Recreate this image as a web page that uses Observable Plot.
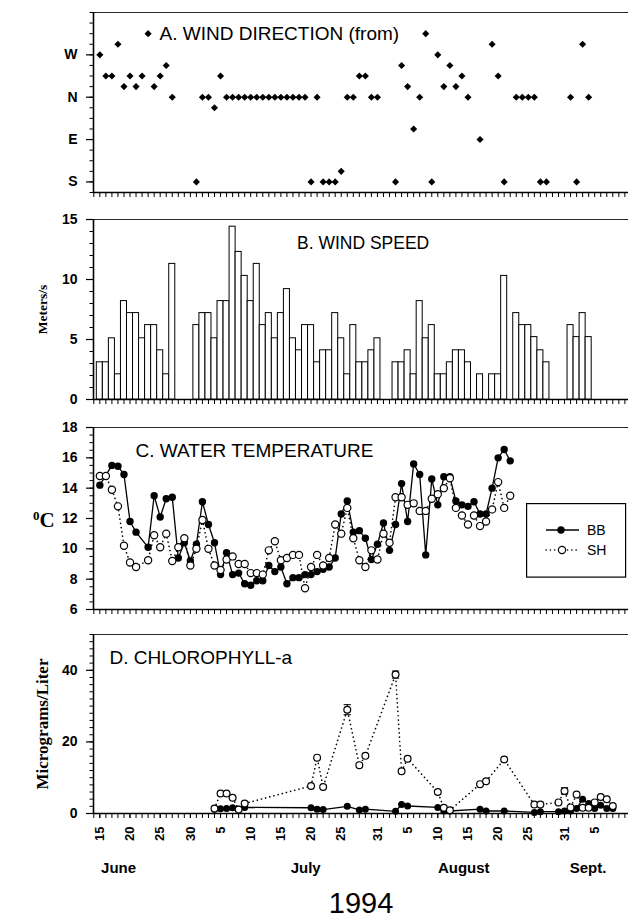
<!DOCTYPE html>
<html><head><meta charset="utf-8">
<script src="https://cdn.jsdelivr.net/npm/d3@7"></script>
<script src="https://cdn.jsdelivr.net/npm/@observablehq/plot@0.6"></script>
<style>
body{margin:0;background:#fff;}
#wrap{position:relative;width:629px;height:921px;overflow:hidden;background:#fff;}
#wrap svg{display:block;}
.ov{position:absolute;color:#000;}
</style></head><body><div id="wrap"></div>
<script>
// ---------------- DATA (day 0 = 15 June 1994) ----------------
const windDirDays = [0,1,2,3,4,5,6,7,8,9,10,11,12,16,17,18,19,20,21,22,23,24,25,26,27,28,29,30,31,32,33,34,35,36,37,38,39,40,41,42,43,44,45,46,49,50,51,52,53,54,55,56,57,58,59,60,61,63,65,66,67,69,70,71,72,73,74,78,79,80,81];
const windDirValues = [3,2.5,2.5,3.25,2.25,2.5,2.25,2.5,3.5,2.25,2.5,2.75,2,0,2,2,1.75,2.5,2,2,2,2,2,2,2,2,2,2,2,2,2,2,0,2,0,0,0,0.25,2,2,2.5,2.5,2,2,0,2.75,2.25,1.25,2,3.5,0,3,2.25,2.75,2.25,2.5,2,1,3.25,2.5,0,2,2,2,2,0,0,2,0,3.25,2];
const dirTickValues = [0,1,2,3];
const dirTickLabels = ["S","E","N","W"];

const windSpeedDays = [0,1,2,3,4,5,6,7,8,9,10,11,12,16,17,18,19,20,21,22,23,24,25,26,27,28,29,30,31,32,33,34,35,36,37,38,39,40,41,42,43,44,45,46,49,50,51,52,53,54,55,56,57,58,59,60,61,63,65,66,67,69,70,71,72,73,74,78,79,80,81];
const windSpeedValues = [3.1,3.1,5.1,2.1,8.2,7.2,7.2,5.1,6.2,6.2,4.1,2.1,11.3,6.2,7.2,7.2,5.1,8.2,8.2,14.4,12.3,10.3,8.2,11.3,6.2,7.2,5.1,7.2,9.2,5.1,4.1,6.2,6.2,3.1,4.1,4.1,7.2,5.1,2.1,6.2,3.1,3.1,4.1,5.1,3.1,3.1,4.1,2.1,8.2,5.1,6.2,2.1,2.1,3.1,4.1,4.1,3.1,2.1,2.1,2.1,10.3,7.2,6.2,6.2,5.2,4.1,3.1,6.2,5.2,7.2,5.2];

const tempDays = [0,1,2,3,4,5,6,8,9,10,11,12,13,14,15,16,17,18,19,20,21,22,23,24,25,26,27,28,29,30,31,32,33,34,35,36,37,38,39,40,41,42,43,44,45,46,47,48,49,50,51,52,53,54,55,56,57,58,59,60,61,62,63,64,65,66,67,68];
const tempBB = [14.2,null,15.5,15.45,14.9,11.8,11.1,10.1,13.5,12.1,13.3,13.4,9.4,10.4,9.2,10.3,13.1,11.6,10.4,8.3,9.75,8.3,8.4,7.7,7.6,7.9,7.9,8.9,8.5,8.8,7.7,8.1,8.1,8.3,8.3,8.5,8.65,8.8,9.4,12.3,13.15,11.1,11.2,10.7,9.3,10.3,11.7,9.9,11.6,14.3,11.8,15.6,14.9,9.6,14.6,12.9,14.75,14.75,13.15,12.9,12.8,13.1,12.3,12.3,14.0,16.0,16.55,15.8];
const tempSH = [14.8,14.8,13.9,12.8,10.2,9.1,8.8,9.25,10.9,10.1,11.0,9.2,10.1,10.7,8.9,10.0,11.9,10.0,8.9,8.6,9.3,9.5,9.0,9.0,8.4,8.4,8.3,9.9,10.5,9.25,9.4,9.6,9.6,7.4,8.8,9.6,8.9,9.4,11.6,11.0,12.7,10.7,9.25,8.8,9.9,9.3,11.0,10.4,13.4,13.4,12.9,13.0,12.5,12.5,13.3,13.6,14.0,14.65,12.7,12.2,11.6,12.2,11.5,11.8,12.6,14.4,12.7,13.5];

const chlDays = [19,20,21,22,23,24,35,36,37,41,43,44,49,50,51,56,57,58,63,64,67,72,73,76,77,78,79,80,81,82,83,84,85];
const chlBB = [1.2,1.3,1.4,1.6,1.2,1.7,1.6,1.2,1.1,2.0,1.0,1.2,0.6,2.5,2.1,1.7,0.7,0.7,1.2,0.7,0.7,0.3,0.5,0.5,0.7,0.7,1.4,4.0,2.8,1.4,2.3,1.4,1.4];
const chlSH = [1.4,5.6,5.6,4.4,1.1,2.8,7.7,15.6,7.4,29.0,13.5,16.1,38.8,11.8,15.3,6.0,1.6,0.9,8.2,9.0,15.1,2.5,2.5,3.1,6.3,1.7,5.3,1.6,1.6,3.1,4.6,4.0,2.1];
const chlErrDays = [41,49,77];
const chlErrLow = [27.6,37.8,5.4];
const chlErrHigh = [30.4,39.8,7.2];

const dayTickDays = [0,5,10,15,20,25,30,35,40,46,51,56,61,66,71,77,82];
const dayTickLabels = ["15","20","25","30","5","10","15","20","25","31","5","10","15","20","25","31","5"];
const monthLabels = ["June","July","August","Sept."];
const monthDays = [3.1,34.1,60.3,80.9];
const yearLabel = "1994";
const seriesNames = ["BB","SH"];
const panelTitles = ["A. WIND DIRECTION (from)","B. WIND SPEED","C. WATER TEMPERATURE","D. CHLOROPHYLL-a"];

// ---------------- HELPERS ----------------
const FONT = "'Liberation Sans', Arial, Helvetica, sans-serif";
const SERIF = "'Liberation Serif', 'Times New Roman', serif";
const xDomain = [-1.05, 87.6];
const allDays = d3.range(-1, 88);
const zip = (xs, ys) => xs.map((x, i) => ({x, y: ys[i]}));
const tickMap = new Map(dayTickDays.map((d, i) => [d, dayTickLabels[i]]));

function frameMarks(yDomain, minor, major, fmt, xLabels) {
  return [
    Plot.ruleY([yDomain[1]], {stroke: "#2a2a2a", strokeWidth: 1.2}),
    Plot.axisY({ticks: minor, tickSize: 3.5, tickFormat: () => "", strokeWidth: 1, label: null}),
    Plot.axisY({ticks: major, tickSize: 7, tickPadding: 9, tickFormat: fmt, fontSize: 14, fontWeight: "bold", strokeWidth: 1.2, label: null}),
    Plot.axisX({ticks: allDays, tickSize: 5, tickFormat: () => "", strokeWidth: 1, label: null}),
    ...(xLabels ? [Plot.axisX({ticks: dayTickDays, tickSize: 5, tickPadding: 8, tickRotate: -90, tickFormat: d => tickMap.get(d), fontSize: 13, fontWeight: "bold", strokeWidth: 1, label: null})] : []),
    Plot.ruleX([xDomain[0]], {strokeWidth: 1.6}),
    Plot.ruleY([yDomain[0]], {strokeWidth: 1.6})
  ];
}
function title(t, dx, dy, size) {
  return Plot.text([t], {text: d => d, frameAnchor: "top-left", dx, dy, textAnchor: "start", lineAnchor: "middle", fontSize: size, fontWeight: "normal"});
}
function yTitle(t, size) {
  return Plot.text([t], {text: d => d, frameAnchor: "left", dx: -51, rotate: -90, textAnchor: "middle", lineAnchor: "middle", fontFamily: SERIF, fontWeight: "bold", fontSize: size});
}
const base = (h, mt, mb, y, marks) => Plot.plot({
  width: 629, height: h, marginLeft: 93, marginRight: 1, marginTop: mt, marginBottom: mb,
  x: {domain: xDomain, label: null},
  y: {...y, label: null},
  style: {fontFamily: FONT, fontSize: "14px", color: "black", background: "white", overflow: "visible"},
  marks
});

const wrap = document.getElementById("wrap");

// ---------------- A. WIND DIRECTION ----------------
const dirData = zip(windDirDays, windDirValues);
wrap.appendChild(base(205, 12, 13, {domain: [-0.25, 4]}, [
  ...frameMarks([-0.25, 4], d3.range(-0.25, 4.01, 0.25), dirTickValues, d => dirTickLabels[dirTickValues.indexOf(d)]),
  Plot.dot(dirData, {x: "x", y: "y", symbol: "diamond2", r: 3.2, fill: "black"}),
  title(panelTitles[0], 66, 21, 19)
]));

// ---------------- B. WIND SPEED ----------------
const spdData = zip(windSpeedDays, windSpeedValues);
wrap.appendChild(base(208, 14, 14, {domain: [0, 15]}, [
  ...frameMarks([0, 15], d3.range(0, 15.01, 1), [0, 5, 10, 15], d => d),
  Plot.rect(spdData, {x1: d => d.x - 0.5, x2: d => d.x + 0.5, y1: 0, y2: "y", fill: "white", stroke: "black", strokeWidth: 1, inset: 0}),
  title(panelTitles[1], 203.5, 24, 17.5),
  yTitle("Meters/s", 13.5)
]));

// ---------------- C. WATER TEMPERATURE ----------------
const bbT = zip(tempDays, tempBB).filter(d => d.y != null);
const shT = zip(tempDays, tempSH).filter(d => d.y != null);
wrap.appendChild(base(208, 14, 12, {domain: [6, 18]}, [
  ...frameMarks([6, 18], d3.range(6, 18.01, 0.5), d3.range(6, 18.01, 2), d => d),
  Plot.line(shT, {x: "x", y: "y", stroke: "black", strokeWidth: 1.6, strokeDasharray: "0.1 4.2", strokeLinecap: "round"}),
  Plot.line(bbT, {x: "x", y: "y", stroke: "black", strokeWidth: 1.3}),
  Plot.dot(bbT, {x: "x", y: "y", r: 3.7, fill: "black"}),
  Plot.dot(shT, {x: "x", y: "y", r: 3.6, fill: "white", stroke: "black", strokeWidth: 1.2}),
  title(panelTitles[2], 42, 23, 19)
]));

// ---------------- D. CHLOROPHYLL-a ----------------
const bbC = zip(chlDays, chlBB);
const shC = zip(chlDays, chlSH);
const errC = chlErrDays.map((d, i) => ({x: d, lo: chlErrLow[i], hi: chlErrHigh[i]}));
wrap.appendChild(base(300, 13, 108, {domain: [0, 50]}, [
  ...frameMarks([0, 50], d3.range(0, 50.01, 2), [0, 20, 40], d => d, true),
  Plot.line(shC, {x: "x", y: "y", stroke: "black", strokeWidth: 1.6, strokeDasharray: "0.1 4.2", strokeLinecap: "round"}),
  Plot.line(bbC, {x: "x", y: "y", stroke: "black", strokeWidth: 1.3}),
  Plot.ruleX(errC, {x: "x", y1: "lo", y2: "hi", strokeWidth: 1}),
  Plot.link(errC, {x1: d => d.x - 0.6, x2: d => d.x + 0.6, y1: "lo", y2: "lo", strokeWidth: 1}),
  Plot.link(errC, {x1: d => d.x - 0.6, x2: d => d.x + 0.6, y1: "hi", y2: "hi", strokeWidth: 1}),
  Plot.dot(bbC, {x: "x", y: "y", r: 3.5, fill: "black"}),
  Plot.dot(shC, {x: "x", y: "y", r: 3.4, fill: "white", stroke: "black", strokeWidth: 1.2}),
  title(panelTitles[3], 16, 23, 19),
  yTitle("Micrograms/Liter", 17),
  Plot.text(monthLabels, {text: d => d, x: monthDays, frameAnchor: "bottom", dy: 55, lineAnchor: "middle", fontSize: 15, fontWeight: "bold"}),
  Plot.text([yearLabel], {text: d => d, frameAnchor: "bottom", dy: 90, lineAnchor: "middle", fontSize: 29, fontWeight: "normal"})
]));

// ---------------- overlays: °C label and legend ----------------
const deg = document.createElement("div");
deg.className = "ov";
deg.style.cssText = "left:33px;top:504px;font-family:" + SERIF + ";font-weight:bold;font-size:21px;line-height:24px;";
deg.innerHTML = '<span style="font-size:13px;vertical-align:7px">0</span>C';
wrap.appendChild(deg);

const leg = document.createElementNS("http://www.w3.org/2000/svg", "svg");
leg.setAttribute("width", 100); leg.setAttribute("height", 75);
leg.style.cssText = "position:absolute;left:525.5px;top:502.5px;overflow:visible";
leg.innerHTML = `
<rect x="0.6" y="0.6" width="99" height="73.5" fill="white" stroke="black" stroke-width="1.2"/>
<line x1="20" x2="53" y1="27" y2="27" stroke="black" stroke-width="1.3"/>
<circle cx="35" cy="27" r="3.7" fill="black"/>
<text x="61" y="27" dy="0.35em" font-family="${FONT}" font-size="14">${seriesNames[0]}</text>
<line x1="20" x2="53" y1="47" y2="47" stroke="black" stroke-width="1.6" stroke-dasharray="0.1 4.2" stroke-linecap="round"/>
<circle cx="36" cy="47" r="3.6" fill="white" stroke="black" stroke-width="1.2"/>
<text x="61" y="47" dy="0.35em" font-family="${FONT}" font-size="14">${seriesNames[1]}</text>`;
wrap.appendChild(leg);
</script></body></html>
